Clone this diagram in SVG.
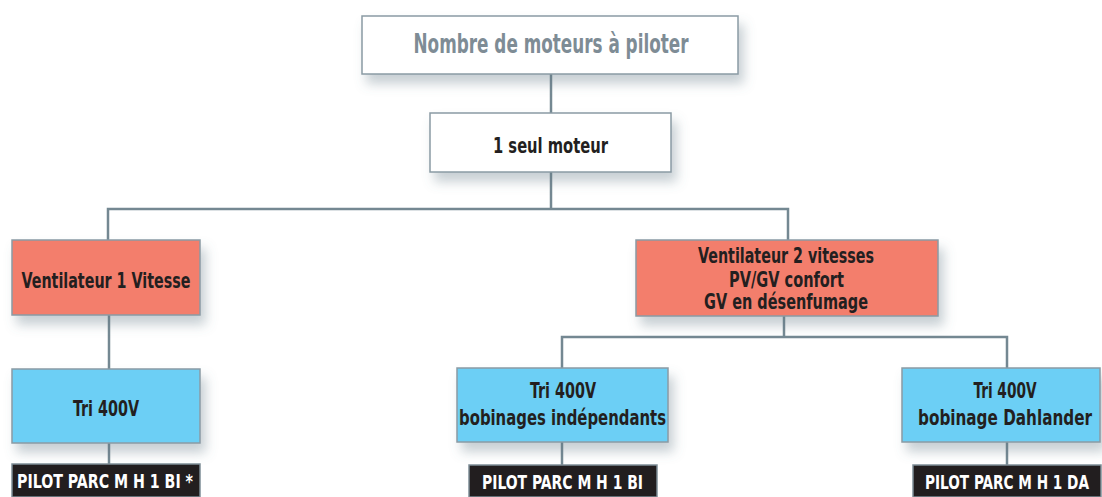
<svg xmlns="http://www.w3.org/2000/svg" width="1102" height="497" viewBox="0 0 1102 497">
<style>
.box{stroke:#8a9ba4;stroke-width:1.5}
.white{fill:#ffffff}
.red{fill:#f37e6c}
.blue{fill:#6ccff5}
.black{fill:#221e1f;stroke:#7d8d96;stroke-width:1.5}
.t{font-family:"Liberation Sans Narrow","DejaVu Sans Condensed","Liberation Sans",sans-serif;font-weight:bold;text-anchor:middle;fill:#231f20}
.title{fill:#7e8c95;font-size:27px}
.n{font-size:21px}
.p{font-size:19px;fill:#ffffff}
.c{fill:none;stroke:#748892;stroke-width:2.5}
</style>
<defs>
<filter id="sh" x="-20%" y="-30%" width="140%" height="180%">
<feDropShadow dx="5" dy="9" stdDeviation="6" flood-color="#5f7683" flood-opacity="0.35"/>
</filter>
</defs>
<rect width="1102" height="497" fill="#ffffff"/>
<g id="connectors">
<path class="c" d="M551 74 V113"/>
<path class="c" d="M551 172 V209"/>
<path class="c" d="M108 240 V209 H788 V240"/>
<path class="c" d="M109 315 V369"/>
<path class="c" d="M109 443 V464"/>
<path class="c" d="M784 316 V337"/>
<path class="c" d="M562 368 V337 H1007 V368"/>
<path class="c" d="M562 442 V465"/>
<path class="c" d="M1007 442 V465"/>
</g>
<g id="n_top">
<rect class="box white" x="362" y="16" width="376" height="58" filter="url(#sh)"/>
<text class="t title" transform="translate(551 53) scale(0.8 1)" textLength="343.75" lengthAdjust="spacingAndGlyphs">Nombre de moteurs à piloter</text>
</g>
<g id="n_seul">
<rect class="box white" x="430" y="113" width="241" height="59" filter="url(#sh)"/>
<text class="t n" transform="translate(550.5 153) scale(0.8 1)" textLength="143.75" lengthAdjust="spacingAndGlyphs">1 seul moteur</text>
</g>
<g id="n_v1">
<rect class="box red" x="12" y="240" width="188" height="75" filter="url(#sh)"/>
<text class="t n" transform="translate(106 288) scale(0.8 1)" textLength="211.25" lengthAdjust="spacingAndGlyphs">Ventilateur 1 Vitesse</text>
</g>
<g id="n_v2">
<rect class="box red" x="636" y="240" width="302" height="76" filter="url(#sh)"/>
<text class="t n" transform="translate(786 263) scale(0.8 1)" textLength="220" lengthAdjust="spacingAndGlyphs">Ventilateur 2 vitesses</text>
<text class="t n" transform="translate(786.5 287) scale(0.8 1)" textLength="143.75" lengthAdjust="spacingAndGlyphs">PV/GV confort</text>
<text class="t n" transform="translate(786 309) scale(0.8 1)" textLength="205" lengthAdjust="spacingAndGlyphs">GV en désenfumage</text>
</g>
<g id="n_tri1">
<rect class="box blue" x="12" y="369" width="188" height="74" filter="url(#sh)"/>
<text class="t n" transform="translate(106 416) scale(0.8 1)" textLength="82.5" lengthAdjust="spacingAndGlyphs">Tri 400V</text>
</g>
<g id="n_tri2">
<rect class="box blue" x="457" y="368" width="211" height="74" filter="url(#sh)"/>
<text class="t n" transform="translate(563 398) scale(0.8 1)" textLength="82.5" lengthAdjust="spacingAndGlyphs">Tri 400V</text>
<text class="t n" transform="translate(562.5 425) scale(0.8 1)" textLength="258.75" lengthAdjust="spacingAndGlyphs">bobinages indépendants</text>
</g>
<g id="n_tri3">
<rect class="box blue" x="902" y="368" width="198" height="74" filter="url(#sh)"/>
<text class="t n" transform="translate(1005 398) scale(0.8 1)" textLength="78.75" lengthAdjust="spacingAndGlyphs">Tri 400V</text>
<text class="t n" transform="translate(1005 425) scale(0.8 1)" textLength="217.5" lengthAdjust="spacingAndGlyphs">bobinage Dahlander</text>
</g>
<g id="n_p1">
<rect class="black" x="12" y="464" width="188" height="33"/>
<text class="t p" transform="translate(105 488) scale(0.8 1)" textLength="220" lengthAdjust="spacingAndGlyphs">PILOT PARC M H 1 BI *</text>
</g>
<g id="n_p2">
<rect class="black" x="469" y="465" width="188" height="32"/>
<text class="t p" transform="translate(562.5 489) scale(0.8 1)" textLength="201.25" lengthAdjust="spacingAndGlyphs">PILOT PARC M H 1 BI</text>
</g>
<g id="n_p3">
<rect class="black" x="913" y="465" width="188" height="32"/>
<text class="t p" transform="translate(1007 489) scale(0.8 1)" textLength="205" lengthAdjust="spacingAndGlyphs">PILOT PARC M H 1 DA</text>
</g>
</svg>
